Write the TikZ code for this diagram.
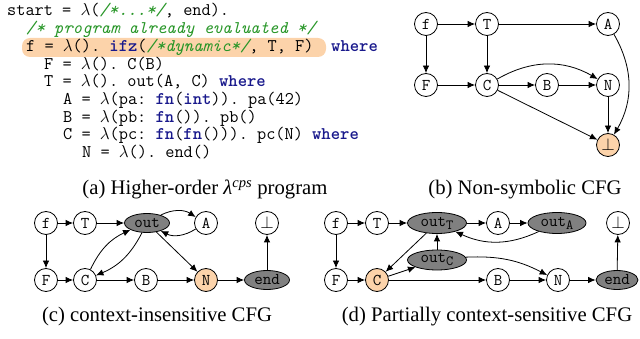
\documentclass[tikz,border=0pt]{standalone}
\usepackage{fontspec}
\setmainfont{Liberation Serif}
\usetikzlibrary{arrows.meta,shapes.geometric}

\definecolor{peach}{RGB}{252,211,170}
\definecolor{kwblue}{RGB}{25,25,140}
\definecolor{cmgreen}{RGB}{40,150,40}
\definecolor{nodegrey}{RGB}{128,128,128}

% code markup
\newcommand\kw[1]{\textcolor{kwblue}{\bfseries #1}}
\newcommand\cmt[1]{\textcolor{cmgreen}{\itshape #1}}
\newcommand\lam{$\lambda$}
\newcommand\codefont{\ttfamily\fontsize{17.8}{17.8}\selectfont\frenchspacing}
\newcommand\vtxfont{\ttfamily\fontsize{16.5}{16.5}\selectfont}
\newcommand\capfont{\fontsize{20.7}{20.7}\selectfont}
\newcommand\sub[1]{\raisebox{-3pt}{\fontsize{14}{14}\selectfont #1}}

\begin{document}
\begin{tikzpicture}[x=1pt,y=1pt,
  codeline/.style={anchor=base west, inner sep=0pt, font=\codefont},
  vtx/.style={circle, draw, line width=0.8pt, minimum size=23pt, inner sep=0pt, fill=white, font=\vtxfont},
  greynode/.style={ellipse, draw, line width=0.8pt, fill=nodegrey, minimum height=19pt, inner sep=0pt, font=\vtxfont},
  edge/.style={-{Latex[length=7.5pt,width=6.5pt]}, line width=0.8pt},
  caption/.style={anchor=base, inner sep=0pt, font=\capfont}]
\useasboundingbox (0,0) rectangle (640,-339);

% ---------------- (a) program ----------------
\fill[peach, rounded corners=8pt] (22,-38) rectangle (326,-57);
\node[codeline] (l1) at (7,-16) {start = \lam(\cmt{/*...*/}, end).};
\node[codeline] (l2) at (26,-33.7) {\cmt{/* program already evaluated */}};
\node[codeline] (l3) at (26,-51.4) {f = \lam(). \kw{ifz}(\cmt{/*dynamic*/}, T, F)};
\node[codeline] (l3w) at (331,-51.4) {\kw{where}};
\node[codeline] (l4) at (44,-69.1) {F = \lam(). C(B)};
\node[codeline] (l5) at (44,-86.8) {T = \lam(). out(A, C) \kw{where}};
\node[codeline] (l6) at (63,-104.5) {A = \lam(pa: \kw{fn}(\kw{int})). pa(42)};
\node[codeline] (l7) at (63,-122.2) {B = \lam(pb: \kw{fn}()). pb()};
\node[codeline] (l8) at (63,-139.9) {C = \lam(pc: \kw{fn}(\kw{fn}())). pc(N) \kw{where}};
\node[codeline] (l9) at (82,-157.6) {N = \lam(). end()};
\node[caption] (capa) at (205,-195) {(a) Higher-order \textit{λ}\textsuperscript{\itshape cps} program};

% ---------------- (b) non-symbolic CFG ----------------
\node[vtx] (bf) at (426,-24) {f};
\node[vtx] (bT) at (487,-24) {T};
\node[vtx] (bA) at (608,-24) {A};
\node[vtx] (bF) at (426,-85) {F};
\node[vtx] (bC) at (487,-85) {C};
\node[vtx] (bB) at (547,-85) {B};
\node[vtx] (bN) at (608,-85) {N};
\node[vtx, fill=peach] (bbot) at (608,-145) {$\perp$};
\draw[edge] (bf) -- (bT);
\draw[edge] (bT) -- (bA);
\draw[edge] (bf) -- (bF);
\draw[edge] (bT) -- (bC);
\draw[edge] (bF) -- (bC);
\draw[edge] (bC) -- (bB);
\draw[edge] (bB) -- (bN);
\draw[edge] (bC) to[bend left=30] (bN);
\draw[edge] (bC) -- (bbot);
\draw[edge] (bN) -- (bbot);
\draw[edge] (bA) to[bend left=30] (bbot);
\node[caption] (capb) at (525,-195) {(b) Non-symbolic CFG};

% ---------------- (c) context-insensitive CFG ----------------
\node[vtx] (cf) at (46,-223) {f};
\node[vtx] (cT) at (85,-223) {T};
\node[greynode, minimum width=45pt] (cout) at (147,-223) {out};
\node[vtx] (cA) at (206,-223) {A};
\node[vtx] (cbot) at (267,-223) {$\perp$};
\node[vtx] (cF) at (46,-280) {F};
\node[vtx] (cC) at (85,-280) {C};
\node[vtx] (cB) at (146,-280) {B};
\node[vtx, fill=peach] (cN) at (206,-280) {N};
\node[greynode, minimum width=45pt] (cend) at (267,-280) {end};
\draw[edge] (cf) -- (cT);
\draw[edge] (cT) -- (cout);
\draw[edge] (cout) to[bend left=30] (cA);
\draw[edge] (cA) to[bend left=30] (cout);
\draw[edge] (cC) to[bend left=20] (cout);
\draw[edge] (cout) to[bend left=20] (cC);
\draw[edge] (cout) -- (cN);
\draw[edge] (cf) -- (cF);
\draw[edge] (cF) -- (cC);
\draw[edge] (cC) -- (cB);
\draw[edge] (cB) -- (cN);
\draw[edge] (cN) -- (cend);
\draw[edge] (cend) -- (cbot);
\node[caption] (capc) at (157,-321) {(c) context-insensitive CFG};

% ---------------- (d) partially context-sensitive CFG ----------------
\node[vtx] (df) at (336,-223) {f};
\node[vtx] (dT) at (377,-223) {T};
\node[greynode, minimum width=59pt, minimum height=21pt] (doutT) at (437,-223) {out\sub{T}};
\node[vtx] (dA) at (498,-223) {A};
\node[greynode, minimum width=58pt, minimum height=21pt] (doutA) at (557,-223) {out\sub{A}};
\node[vtx] (dbot) at (618,-223) {$\perp$};
\node[greynode, minimum width=59pt, minimum height=20pt] (doutC) at (437,-260) {out\sub{C}};
\node[vtx] (dF) at (336,-280) {F};
\node[vtx, fill=peach] (dC) at (377,-280) {C};
\node[vtx] (dB) at (498,-280) {B};
\node[vtx] (dN) at (558,-280) {N};
\node[greynode, minimum width=42pt] (dend) at (617,-280) {end};
\draw[edge] (df) -- (dT);
\draw[edge] (dT) -- (doutT);
\draw[edge] (doutT) -- (dA);
\draw[edge] (dA) -- (doutA);
\draw[edge] (doutA) to[bend left=25] (doutT);
\draw[edge] (doutT) -- (dC);
\draw[edge] (dC) -- (doutC);
\draw[edge] (doutC) -- (doutT);
\draw[edge] (doutC) to[bend left=15] (dN);
\draw[edge] (df) -- (dF);
\draw[edge] (dF) -- (dC);
\draw[edge] (dC) -- (dB);
\draw[edge] (dB) -- (dN);
\draw[edge] (dN) -- (dend);
\draw[edge] (dend) -- (dbot);
\node[caption] (capd) at (487,-321) {(d) Partially context-sensitive CFG};
\end{tikzpicture}
\end{document}
